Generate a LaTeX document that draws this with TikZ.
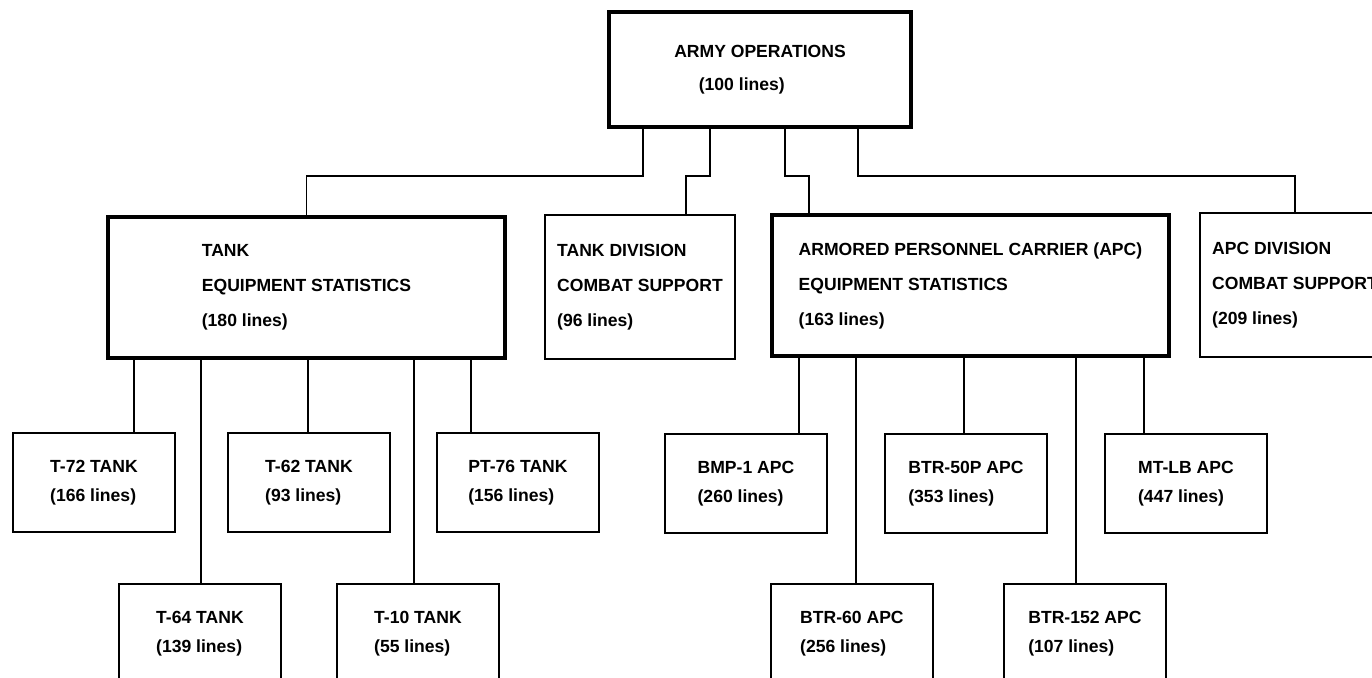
\documentclass[tikz,border=0pt]{standalone}
\usepackage{fontspec}
\setmainfont{Liberation Sans}
\usepackage{tikz}
\usetikzlibrary{calc}

\begin{document}
\begin{tikzpicture}[x=0.02cm,y=-0.02cm,font=\bfseries\fontsize{10}{16.5}\selectfont,
  unit/.style={draw,line width=1.1pt,anchor=north west,align=left,inner sep=2pt,minimum width=3.24cm,minimum height=1.98cm},
  group/.style={unit,line width=2.3pt,minimum width=7.94cm,minimum height=2.82cm},
  support/.style={unit,minimum width=3.8cm,minimum height=2.88cm},
  link/.style={line width=1.1pt}]
\useasboundingbox (0,0) rectangle (1372,678);
\clip (0,0) rectangle (1372,678);
\node[group,minimum width=6.04cm,minimum height=2.3cm] (army) at (607,10) {ARMY OPERATIONS\\[2pt]\hspace*{1.4em}(100 lines)};
\node[group] (tank) at (106,215) {TANK\\[3.4pt]EQUIPMENT STATISTICS\\[3.4pt](180 lines)};
\node[support] (tdiv) at (544,214) {TANK DIVISION\\[3.4pt]COMBAT SUPPORT\\[3.4pt](96 lines)};
\node[group] (apc) at (770,213) {ARMORED PERSONNEL CARRIER (APC)\\[3.4pt]EQUIPMENT STATISTICS\\[3.4pt](163 lines)};
\node[support] (adiv) at (1199,212) {APC DIVISION\\[3.4pt]COMBAT SUPPORT\\[3.4pt](209 lines)};
% tank models
\node[unit] (t72) at (12,432) {T-72 TANK\\(166 lines)};
\node[unit] (t62) at (227,432) {T-62 TANK\\(93 lines)};
\node[unit] (pt76) at (436,432) {PT-76 TANK\\(156 lines)};
\node[unit] (t64) at (118,583) {T-64 TANK\\(139 lines)};
\node[unit] (t10) at (336,583) {T-10 TANK\\(55 lines)};
% apc models
\node[unit] (bmp) at (664,433) {BMP-1 APC\\(260 lines)};
\node[unit] (btr50) at (884,433) {BTR-50P APC\\(353 lines)};
\node[unit] (mtlb) at (1104,433) {MT-LB APC\\(447 lines)};
\node[unit] (btr60) at (770,583) {BTR-60 APC\\(256 lines)};
\node[unit] (btr152) at (1003,583) {BTR-152 APC\\(107 lines)};
% links from the top
\draw[link] ($(army.south west)+(36,0)$) -- ++(0,47) -| (tank.north);
\draw[link] ($(army.south west)+(103,0)$) -- ++(0,47) -| ($(tdiv.north west)+(142,0)$);
\draw[link] ($(army.south west)+(178,0)$) -- ++(0,47) -| ($(apc.north west)+(39,0)$);
\draw[link] ($(army.south west)+(251,0)$) -- ++(0,47) -| (adiv.north);
% links to the models
\draw[link] ($(tank.south west)+(28,0)$) -- ($(t72.north west)+(122,0)$);
\draw[link] ($(tank.south west)+(95,0)$) -- ($(t64.north west)+(83,0)$);
\draw[link] ($(tank.south west)+(202,0)$) -- ($(t62.north west)+(81,0)$);
\draw[link] ($(tank.south west)+(308,0)$) -- ($(t10.north west)+(78,0)$);
\draw[link] ($(tank.south west)+(365,0)$) -- ($(pt76.north west)+(35,0)$);
\draw[link] ($(apc.south west)+(29,0)$) -- ($(bmp.north west)+(135,0)$);
\draw[link] ($(apc.south west)+(86,0)$) -- ($(btr60.north west)+(86,0)$);
\draw[link] ($(apc.south west)+(194,0)$) -- ($(btr50.north west)+(80,0)$);
\draw[link] ($(apc.south west)+(306,0)$) -- ($(btr152.north west)+(73,0)$);
\draw[link] ($(apc.south west)+(374,0)$) -- ($(mtlb.north west)+(40,0)$);
\end{tikzpicture}
\end{document}
